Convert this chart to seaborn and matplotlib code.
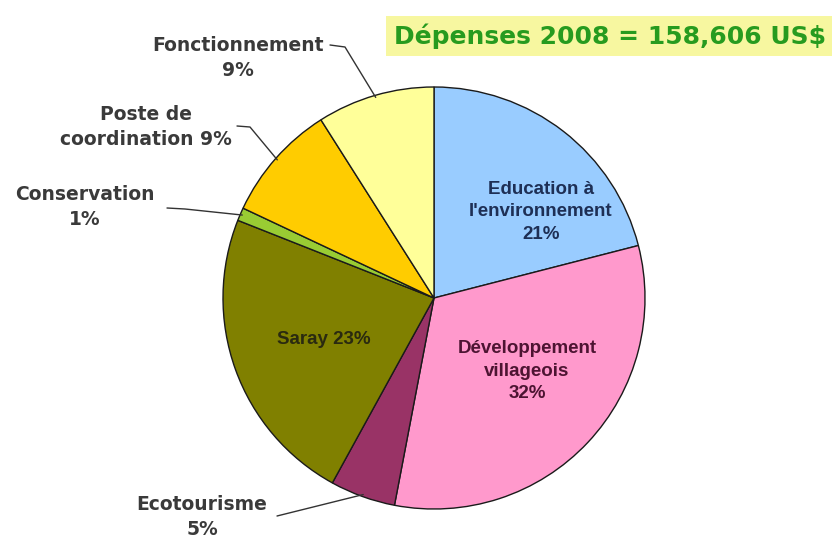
import numpy as np
import matplotlib
matplotlib.use("Agg")
import matplotlib.pyplot as plt
import seaborn as sns

sns.set_theme(style="white")
plt.rcParams["font.family"] = ["Liberation Sans", "DejaVu Sans"]

categories = ["Education à\nl'environnement", "Développement\nvillageois", "Ecotourisme",
              "Saray", "Conservation", "Poste de\ncoordination", "Fonctionnement"]
shares = [21, 32, 5, 23, 1, 9, 9]
colors = ["#99ccff", "#ff99cc", "#993366", "#808000", "#99cc33", "#ffcc00", "#ffff99"]
title = "Dépenses 2008 = 158,606 US$"

W, H = 832, 538
fig = plt.figure(figsize=(W / 100, H / 100), dpi=100)
ax = fig.add_axes([0, 0, 1, 1])

cx, cy, r = 434, H - 298, 211
wedges, _ = ax.pie(shares, colors=colors, startangle=90, counterclock=False,
                   center=(cx, cy), radius=r, frame=True,
                   wedgeprops=dict(edgecolor="#1a1a1a", linewidth=1.0))
ax.set_xlim(0, W)
ax.set_ylim(0, H)
ax.set_aspect("equal")
ax.axis("off")


def edge_point(w, frac=1.0):
    mid = np.deg2rad((w.theta1 + w.theta2) / 2)
    return cx + frac * r * np.cos(mid), cy + frac * r * np.sin(mid)


lsp = 1.45
inner = dict(ha="center", va="center", fontsize=13.5, fontweight="bold", linespacing=lsp)

# inside labels
ax.text(541, H - 212, f"{categories[0]}\n{shares[0]}%", color="#1e2f55", **inner)
ax.text(527, H - 371, f"{categories[1]}\n{shares[1]}%", color="#4d1432", **inner)
ax.text(324, H - 340, f"{categories[3]} {shares[3]}%", color="#2a2a10", **inner)

# outside labels with leader lines
outside = [
    (6, (238, H - 58), [(330, H - 45), (345, H - 47)]),
    (5, (146, H - 127), [(237, H - 126), (250, H - 127)]),
    (4, (85, H - 207), [(167, H - 208), (185, H - 209)]),
    (2, (202, H - 517), [(277, H - 516)]),
]
for i, (tx, ty), pts in outside:
    if i == 5:
        label = f"{categories[i]} {shares[i]}%"
    else:
        label = f"{categories[i]}\n{shares[i]}%"
    ax.text(tx, ty, label, ha="center", va="center", fontsize=13.5,
            fontweight="bold", color="#3a3a3a", linespacing=lsp,
            family="DejaVu Sans")
    ex, ey = edge_point(wedges[i], 0.99)
    xs = [p[0] for p in pts] + [ex]
    ys = [p[1] for p in pts] + [ey]
    ax.plot(xs, ys, color="#333333", linewidth=1.0, zorder=5)

ax.text(610, H - 36, title, ha="center", va="center", fontsize=18,
        fontweight="bold", color="#279b1f", family="DejaVu Sans",
        bbox=dict(boxstyle="square,pad=0.3", facecolor="#f7f7a0", edgecolor="none"))

fig.savefig("out.png", dpi=100)
